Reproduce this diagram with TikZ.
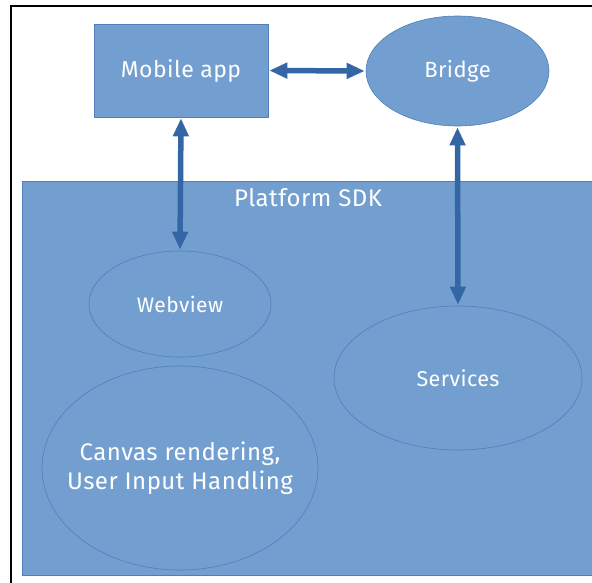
\documentclass[tikz,border=0pt]{standalone}
\usepackage{fontspec}
\setmainfont{Fira Sans}[LetterSpace=2]
\usetikzlibrary{arrows.meta,shapes.geometric}
\definecolor{boxfill}{HTML}{729FCF}
\definecolor{boxline}{HTML}{4F7FBC}
\definecolor{arrowcol}{HTML}{3465A4}
\tikzset{
  blk/.style={fill=boxfill, draw=boxline, line width=0.6pt, text=white, align=center, inner sep=0pt},
  ell/.style={blk, ellipse},
  lbl/.style={text=white, align=center, inner sep=0pt},
  conn/.style={draw=arrowcol, line width=5.5pt, {Triangle[length=18pt,width=15pt]}-{Triangle[length=18pt,width=15pt]}, shorten <=1pt, shorten >=1pt}
}
\begin{document}
\begin{tikzpicture}[x=1pt,y=-1pt]
\useasboundingbox (0,0) rectangle (592,582);
\fill[white] (0,0) rectangle (592,582);
\draw[black, line width=2pt] (11,583) -- (11,6) -- (593,6);
% platform
\node[blk, draw=boxline, minimum width=570pt, minimum height=394pt, anchor=north west] (sdk) at (22,181) {};
\node[lbl, font=\fontsize{24}{28}\selectfont] (sdklabel) at (308,198) {Platform SDK};
% top
\node[blk, minimum width=174pt, minimum height=93pt, font=\fontsize{23}{27}\selectfont] (app) at (181,70.5) {Mobile app};
\node[ell, minimum width=183pt, minimum height=110pt, font=\fontsize{22}{26}\selectfont] (bridge) at (457.5,71) {Bridge};
% inner
\node[ell, minimum width=182pt, minimum height=106pt, font=\fontsize{21}{25}\selectfont] (web) at (180,304) {Webview};
\node[ell, minimum width=248pt, minimum height=144pt, font=\fontsize{21.5}{25}\selectfont] (serv) at (458,378) {Services};
\node[ell, minimum width=276pt, minimum height=204pt] (canvas) at (180,468) {};
\node[lbl, font=\fontsize{24}{29}\selectfont] (canvaslabel) at (canvas.center) {Canvas rendering,\\ User Input Handling};
% connectors
\draw[conn] (app.east) -- (bridge.west);
\draw[conn] (app.south) -- (web.north);
\draw[conn] (bridge.south) -- (serv.north);
\end{tikzpicture}
\end{document}
